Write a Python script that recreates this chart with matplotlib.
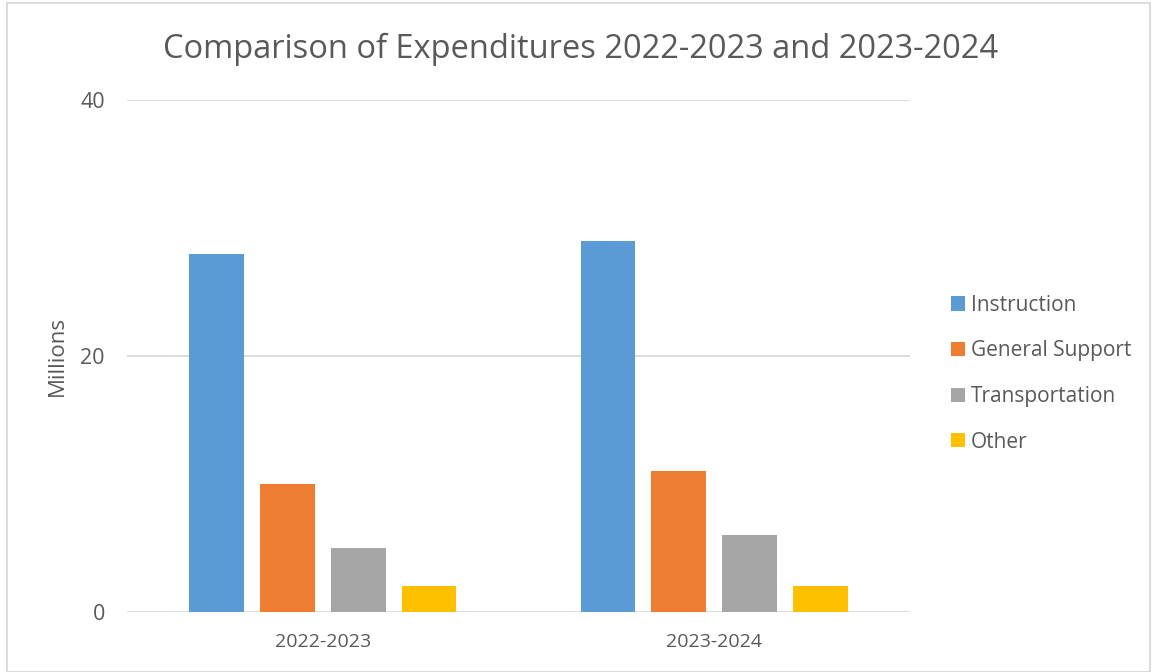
import matplotlib
matplotlib.use("Agg")
import matplotlib.pyplot as plt
import numpy as np
from matplotlib.patches import Rectangle

years = ["2022-2023", "2023-2024"]
series_names = ["Instruction", "General Support", "Transportation", "Other"]
instruction = [28, 29]
general_support = [10, 11]
transportation = [5, 6]
other = [2, 2]
colors = ["#5B9BD5", "#ED7D31", "#A5A5A5", "#FFC000"]
yticks = [0, 20, 40]

plt.rcParams['font.family'] = ['Open Sans', 'DejaVu Sans']
text_color = "#595959"

W, H = 1153, 672
fig = plt.figure(figsize=(W / 100, H / 100), dpi=100)
ax = fig.add_axes([127 / W, (H - 612) / H, (910 - 127) / W, (612 - 100) / H])

values = [instruction, general_support, transportation, other]
x = np.arange(len(years))
bw = 0.14
step = 0.181
for i, (name, vals, c) in enumerate(zip(series_names, values, colors)):
    ax.bar(x + (i - 1.5) * step, vals, width=bw, color=c, label=name, zorder=3)

ax.set_xlim(-0.5, 1.5)
ax.set_ylim(0, 40)
ax.set_yticks(yticks)
ax.set_yticklabels([str(t) for t in yticks], fontsize=15.5, color=text_color)
ax.set_xticks(x)
ax.set_xticklabels(years, fontsize=14, color=text_color)
ax.tick_params(axis='both', length=0)
ax.tick_params(axis='y', pad=16)
ax.tick_params(axis='x', pad=15)
ax.grid(axis='y', color="#D9D9D9", linewidth=1.3, zorder=0)
for s in ax.spines.values():
    s.set_visible(False)
ax.set_ylabel("Millions", fontsize=16, color=text_color, labelpad=9)

fig.text(581 / W, 1 - 58 / H, "Comparison of Expenditures 2022-2023 and 2023-2024",
         ha='center', va='baseline', fontsize=23.5, color=text_color)

leg = fig.legend(loc='upper left', bbox_to_anchor=(932 / W, 1 - 276 / H),
                 frameon=False, fontsize=15, labelspacing=1.18,
                 handlelength=0.67, handleheight=0.67, handletextpad=0.29)
for t in leg.get_texts():
    t.set_color(text_color)

fig.patches.append(Rectangle((7 / W, 0), (1150 - 7) / W, (H - 3) / H,
                             transform=fig.transFigure, fill=False,
                             edgecolor="#D9D9D9", linewidth=1.3))

fig.savefig("out.png", dpi=100)
